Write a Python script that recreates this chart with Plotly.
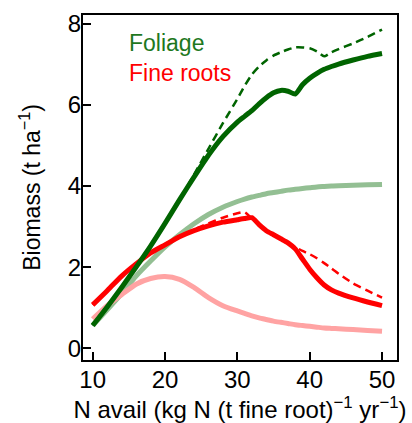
import plotly.graph_objects as go

# N availability grid (kg N (t fine root)^-1 yr^-1)
n_avail = [10, 12, 14, 16, 18, 20, 22, 24, 26, 28, 30, 31, 32, 33, 34, 35, 36, 37,
           38, 39, 40, 41, 42, 43, 44, 46, 48, 50]

# Foliage biomass (t ha^-1)
foliage_solid = [0.56, 1.02, 1.5, 2.0, 2.52, 3.08, 3.66, 4.22, 4.76, 5.22, 5.58, 5.72, 5.86, 6.03,
                 6.18, 6.3, 6.36, 6.34, 6.27, 6.5, 6.66, 6.78, 6.88, 6.95, 7.01, 7.11, 7.2, 7.27]
foliage_dashed = [0.56, 1.02, 1.5, 2.0, 2.52, 3.08, 3.66, 4.28, 4.92, 5.55, 6.15, 6.47, 6.75, 6.95,
                  7.1, 7.22, 7.3, 7.37, 7.42, 7.42, 7.4, 7.32, 7.2, 7.3, 7.38, 7.52, 7.68, 7.86]
foliage_faded = [0.56, 0.95, 1.35, 1.78, 2.15, 2.5, 2.8, 3.07, 3.3, 3.48, 3.62, 3.68, 3.73, 3.77,
                 3.81, 3.84, 3.87, 3.9, 3.92, 3.94, 3.96, 3.98, 3.99, 4.0, 4.01, 4.02, 4.03, 4.04]

# Fine-root biomass (t ha^-1)
roots_solid = [1.07, 1.42, 1.78, 2.08, 2.35, 2.55, 2.75, 2.9, 3.02, 3.11, 3.17, 3.2, 3.22, 3.05,
               2.9, 2.8, 2.7, 2.6, 2.45, 2.2, 1.95, 1.74, 1.56, 1.44, 1.36, 1.24, 1.14, 1.05]
roots_dashed = [1.07, 1.42, 1.78, 2.08, 2.35, 2.57, 2.76, 2.93, 3.08, 3.22, 3.33, 3.36, 3.2, 3.05,
                2.9, 2.8, 2.7, 2.6, 2.5, 2.4, 2.32, 2.22, 2.1, 1.97, 1.84, 1.6, 1.42, 1.25]
roots_faded = [0.72, 1.05, 1.32, 1.58, 1.72, 1.77, 1.7, 1.5, 1.25, 1.05, 0.92, 0.86, 0.8, 0.75,
               0.71, 0.67, 0.64, 0.61, 0.58, 0.56, 0.54, 0.52, 0.5, 0.49, 0.48, 0.46, 0.44, 0.42]

x_ticks = [10, 20, 30, 40, 50]
y_ticks = [0, 2, 4, 6, 8]

DARK_GREEN = "#006400"
LIGHT_GREEN = "#93bf93"
RED = "#ff0000"
LIGHT_RED = "#ffa3a3"
FONT = "Liberation Sans, Arial, Helvetica, sans-serif"

fig = go.Figure()

series = [
    (foliage_faded, LIGHT_GREEN, 5, "solid"),
    (roots_faded, LIGHT_RED, 5, "solid"),
    (roots_dashed, RED, 2.5, "8px,5px"),
    (roots_solid, RED, 5, "solid"),
    (foliage_dashed, DARK_GREEN, 2.5, "8px,5px"),
    (foliage_solid, DARK_GREEN, 5, "solid"),
]
for ys, color, width, dash in series:
    fig.add_trace(go.Scatter(
        x=n_avail, y=ys, mode="lines",
        line=dict(color=color, width=width, dash=dash, shape="spline", smoothing=0.6),
        showlegend=False, hoverinfo="skip",
    ))

fig.add_annotation(x=0.14, y=0.918, xref="paper", yref="paper", text="Foliage",
                   showarrow=False, xanchor="left", yanchor="middle",
                   font=dict(family=FONT, size=23, color="#1e781e"))
fig.add_annotation(x=0.14, y=0.833, xref="paper", yref="paper", text="Fine roots",
                   showarrow=False, xanchor="left", yanchor="middle",
                   font=dict(family=FONT, size=23, color=RED))

axis_common = dict(
    showgrid=False, zeroline=False, showline=True, linecolor="black", linewidth=2,
    mirror=True, ticks="inside", ticklen=8, tickwidth=2, tickcolor="black",
    tickfont=dict(family=FONT, size=24, color="black"),
)

fig.update_layout(
    width=412, height=423,
    margin=dict(l=83, r=15, t=10, b=63),
    paper_bgcolor="white", plot_bgcolor="white",
    xaxis=dict(range=[8.66, 52.07], tickvals=x_ticks, ticklabelstandoff=-3,
               title=dict(text="N avail (kg N (t fine root)<sup>−1</sup> yr<sup>−1</sup>)",
                          font=dict(family=FONT, size=24, color="black"), standoff=2),
               **axis_common),
    yaxis=dict(range=[-0.29, 8.22], tickvals=y_ticks, ticklabelstandoff=-5,
               title=dict(text="Biomass (t ha<sup>−1</sup>)",
                          font=dict(family=FONT, size=23, color="black"), standoff=21),
               **axis_common),
)

fig.write_html("out.html")
